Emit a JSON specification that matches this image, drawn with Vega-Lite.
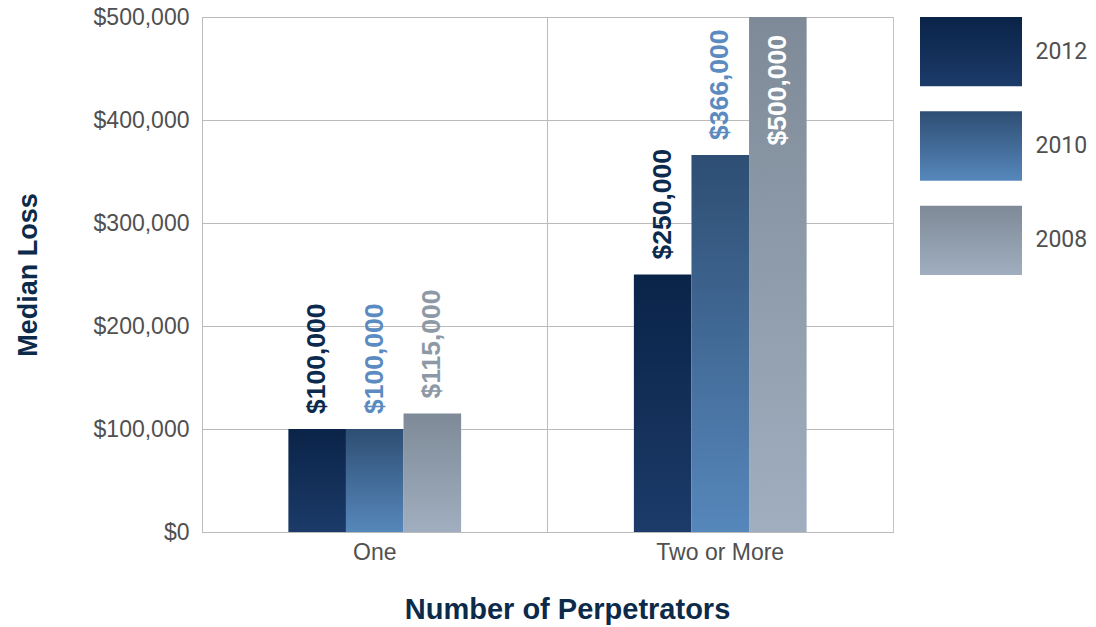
{
  "$schema": "https://vega.github.io/schema/vega-lite/v6.json",
  "padding": {"left": 13, "top": 5, "right": 0, "bottom": 0},
  "background": "white",
  "config": {
    "font": "Liberation Sans",
    "view": {"stroke": "#c4c4c4", "strokeWidth": 1},
    "concat": {"spacing": 26}
  },
  "datasets": {
    "losses": [
      {"perpetrators": "One", "year": "2012", "value": 100000, "label": "$100,000"},
      {"perpetrators": "One", "year": "2010", "value": 100000, "label": "$100,000"},
      {"perpetrators": "One", "year": "2008", "value": 115000, "label": "$115,000"},
      {"perpetrators": "Two or More", "year": "2012", "value": 250000, "label": "$250,000"},
      {"perpetrators": "Two or More", "year": "2010", "value": 366000, "label": "$366,000"},
      {"perpetrators": "Two or More", "year": "2008", "value": 500000, "label": "$500,000"}
    ],
    "legend": [
      {"year": "2012"},
      {"year": "2010"},
      {"year": "2008"}
    ]
  },
  "hconcat": [
    {
      "width": 691,
      "height": 515,
      "data": {"name": "losses"},
      "encoding": {
        "x": {
          "field": "perpetrators",
          "type": "nominal",
          "sort": ["One", "Two or More"],
          "scale": {"paddingInner": 0.5, "paddingOuter": 0.25},
          "axis": {
            "title": "Number of Perpetrators",
            "titleFont": "Liberation Sans",
            "titleFontSize": 29,
            "titleFontWeight": "bold",
            "titleColor": "#0c2a4a",
            "titlePadding": 31,
            "titleX": 365,
            "titleAlign": "center",
            "labelAngle": 0,
            "labelFontSize": 23,
            "labelColor": "#505050",
            "labelPadding": 9,
            "ticks": false,
            "domainColor": "#bbbbbb",
            "grid": true,
            "gridColor": "#bbbbbb",
            "bandPosition": -0.5
          }
        },
        "xOffset": {
          "field": "year",
          "type": "nominal",
          "sort": ["2012", "2010", "2008"],
          "scale": {"paddingInner": 0, "paddingOuter": 0}
        },
        "y": {
          "field": "value",
          "type": "quantitative",
          "scale": {"domain": [0, 500000], "nice": false},
          "axis": {
            "title": "Median Loss",
            "titleFontSize": 27,
            "titleFontWeight": "bold",
            "titleColor": "#0c2a4a",
            "titlePadding": 51,
            "values": [0, 100000, 200000, 300000, 400000, 500000],
            "format": "$,.0f",
            "labelFontSize": 23,
            "labelColor": "#505050",
            "labelPadding": 13,
            "ticks": false,
            "domainColor": "#bbbbbb",
            "gridColor": "#bbbbbb"
          }
        }
      },
      "layer": [
        {
          "mark": {"type": "bar"},
          "encoding": {
            "color": {
              "condition": [
                {"test": "datum.year === '2012'", "value": {"gradient": "linear", "x1": 0, "y1": 0, "x2": 0, "y2": 1, "stops": [{"offset": 0, "color": "#0a2348"}, {"offset": 1, "color": "#1c3b69"}]}},
                {"test": "datum.year === '2010'", "value": {"gradient": "linear", "x1": 0, "y1": 0, "x2": 0, "y2": 1, "stops": [{"offset": 0, "color": "#2e4e73"}, {"offset": 1, "color": "#5687bb"}]}}
              ],
              "value": {"gradient": "linear", "x1": 0, "y1": 0, "x2": 0, "y2": 1, "stops": [{"offset": 0, "color": "#7e8a97"}, {"offset": 1, "color": "#a0aebf"}]}
            }
          }
        },
        {
          "transform": [{"filter": "datum.value < 500000"}],
          "mark": {"type": "text", "angle": 270, "align": "left", "baseline": "middle", "dx": 15, "fontSize": 26.5, "fontWeight": "bold"},
          "encoding": {
            "text": {"field": "label"},
            "color": {
              "condition": [
                {"test": "datum.year === '2012'", "value": "#0c2a4d"},
                {"test": "datum.year === '2010'", "value": "#5b8bc0"}
              ],
              "value": "#8d99a6"
            }
          }
        },
        {
          "transform": [{"filter": "datum.value >= 500000"}],
          "mark": {"type": "text", "angle": 270, "align": "right", "baseline": "middle", "dx": -18, "fontSize": 26.5, "fontWeight": "bold", "color": "white"},
          "encoding": {
            "text": {"field": "label"}
          }
        }
      ]
    },
    {
      "width": 102,
      "height": 258,
      "data": {"name": "legend"},
      "view": {"stroke": null},
      "mark": {"type": "rect"},
      "encoding": {
        "y": {
          "field": "year",
          "type": "nominal",
          "sort": ["2012", "2010", "2008"],
          "scale": {"paddingInner": 0.265, "paddingOuter": 0},
          "axis": {
            "orient": "right",
            "title": null,
            "domain": false,
            "ticks": false,
            "labelFontSize": 23,
            "labelColor": "#505050",
            "labelPadding": 13,
            "labelFont": "Roboto"
          }
        },
        "color": {
          "condition": [
            {"test": "datum.year === '2012'", "value": {"gradient": "linear", "x1": 0, "y1": 0, "x2": 0, "y2": 1, "stops": [{"offset": 0, "color": "#0a2348"}, {"offset": 1, "color": "#1c3b69"}]}},
            {"test": "datum.year === '2010'", "value": {"gradient": "linear", "x1": 0, "y1": 0, "x2": 0, "y2": 1, "stops": [{"offset": 0, "color": "#2e4e73"}, {"offset": 1, "color": "#5687bb"}]}}
          ],
          "value": {"gradient": "linear", "x1": 0, "y1": 0, "x2": 0, "y2": 1, "stops": [{"offset": 0, "color": "#7e8a97"}, {"offset": 1, "color": "#a0aebf"}]}
        }
      }
    }
  ]
}
